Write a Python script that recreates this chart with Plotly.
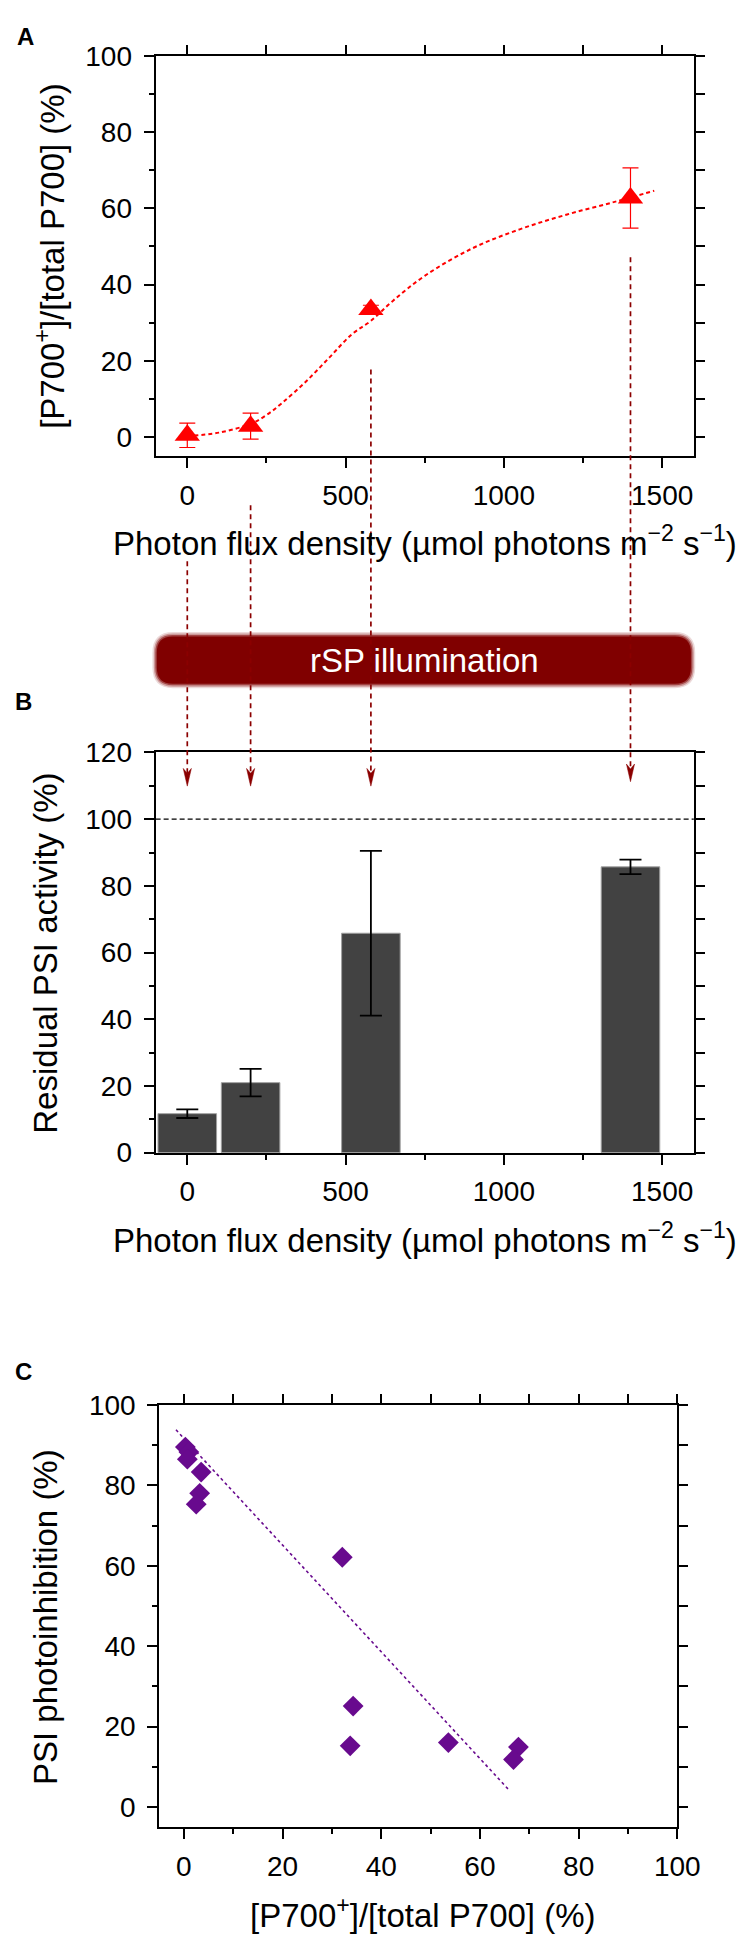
import plotly.graph_objects as go

W, H = 750, 1943
FONT = "Liberation Sans, Arial, Helvetica, sans-serif"

# ---- panel A: P700 oxidation vs light ----
a_pfd = [0, 200, 580, 1400]
a_p700 = [0.5, 2.9, 33.5, 62.7]
a_err = [3.2, 3.4, 1.1, 7.9]
# fitted curve
fit_x = [0, 100, 200, 250, 300, 375, 450, 520, 580, 650, 750, 900, 1050, 1200, 1350, 1475]
fit_y = [0.3, 1.2, 3.5, 5.8, 9.0, 14.6, 21.0, 27.0, 30.5, 35.8, 42.3, 49.5, 54.5, 58.4, 61.7, 64.6]

# ---- panel B: residual PSI activity ----
b_pfd = [0, 200, 580, 1400]
b_psi = [11.7, 21.0, 65.8, 85.7]
b_err = [1.3, 4.1, 24.7, 2.2]

# ---- panel C: photoinhibition vs P700+ ----
c_p700 = [0.3, 1.0, 0.7, 3.5, 3.2, 2.5, 32.1, 34.3, 33.7, 53.6, 67.8, 66.8]
c_inhib = [89.5, 88.3, 86.5, 83.3, 78.0, 75.3, 62.1, 25.1, 15.2, 16.0, 14.9, 11.8]
reg_x = [-1.6, 65.9]
reg_y = [93.8, 4.2]

# arrows from panel A down to panel B (pixel y of start / tip)
arrow_start = [547, 490, 352, 238]
arrow_tip = [775.5, 775.5, 775.5, 771]

RED = "#FF0000"
DARKRED = "#8B0000"
PURPLE = "#680A8E"


def px(v):
    return v / W


def py(v):
    return 1 - v / H


fig = go.Figure()

fig.add_trace(go.Scatter(x=fit_x, y=fit_y, mode="lines", line_shape="spline",
                         line=dict(color=RED, width=2, dash="4px,3px"),
                         xaxis="x", yaxis="y", hoverinfo="skip"))
fig.add_trace(go.Scatter(x=a_pfd, y=a_p700, mode="markers",
                         marker=dict(symbol="triangle-up", size=22, color=RED),
                         error_y=dict(type="data", array=a_err, color=RED,
                                      thickness=1.2, width=8),
                         xaxis="x", yaxis="y"))

fig.add_trace(go.Bar(x=b_pfd, y=b_psi, width=185,
                     marker=dict(color="#424242", line=dict(color="#a0a0a0", width=1)),
                     error_y=dict(type="data", array=b_err, color="black",
                                  thickness=1.8, width=11),
                     xaxis="x2", yaxis="y2"))

fig.add_trace(go.Scatter(x=reg_x, y=reg_y, mode="lines",
                         line=dict(color=PURPLE, width=1.6, dash="3px,3px"),
                         xaxis="x3", yaxis="y3", hoverinfo="skip"))
fig.add_trace(go.Scatter(x=c_p700, y=c_inhib, mode="markers",
                         marker=dict(symbol="diamond", size=16, color=PURPLE),
                         xaxis="x3", yaxis="y3"))

# empty traces so the opposite-side tick axes get drawn
for xa, ya in [("x4", "y4"), ("x2", "y5"), ("x6", "y6")]:
    fig.add_trace(go.Scatter(x=[None], y=[None], mode="markers", xaxis=xa, yaxis=ya,
                             hoverinfo="skip"))

axis_common = dict(showgrid=False, zeroline=False, showline=True, linecolor="black",
                   linewidth=2, ticks="outside", ticklen=10, tickwidth=2, mirror=True,
                   tickcolor="black", tickfont=dict(size=28, color="black", family=FONT))
minor_x = dict(ticks="outside", ticklen=5, tickwidth=2, tickcolor="black")
# opposite axes: every tick is drawn long, no labels
opp = dict(showgrid=False, zeroline=False, showline=False, showticklabels=False,
           ticks="outside", ticklen=10, tickwidth=2, tickcolor="black", tick0=0)

fig.update_layout(
    width=W, height=H, margin=dict(l=0, r=0, t=0, b=0),
    paper_bgcolor="white", plot_bgcolor="white", showlegend=False,
    font=dict(family=FONT, color="black", size=28),
    xaxis=dict(axis_common, domain=[px(152.3), px(707.5)], anchor="y",
               range=[-100, 1600], dtick=500, tick0=0,
               ticklabelstandoff=3, minor=dict(minor_x, dtick=250)),
    yaxis=dict(axis_common, domain=[py(440.3), py(33.3)], anchor="x",
               range=[-5, 100], dtick=20, tick0=0,
               ticklabelstandoff=6, minor=dict(minor_x, dtick=10)),
    xaxis4=dict(opp, overlaying="x", side="top", anchor="y", range=[-100, 1600], dtick=250),
    yaxis4=dict(opp, overlaying="y", side="right", anchor="x", range=[-5, 100], dtick=10),
    xaxis2=dict(axis_common, domain=[px(152.3), px(707.5)], anchor="y2",
                range=[-100, 1600], dtick=500, tick0=0,
                ticklabelstandoff=3, minor=dict(minor_x, dtick=250)),
    yaxis2=dict(axis_common, domain=[py(1148), py(741.3)], anchor="x2",
                range=[0, 120], dtick=20, tick0=0,
                ticklabelstandoff=6, minor=dict(minor_x, dtick=10)),
    yaxis5=dict(opp, overlaying="y2", side="right", anchor="x2", range=[0, 120], dtick=10),
    xaxis3=dict(axis_common, domain=[px(156), px(690.5)], anchor="y3",
                range=[-5, 100], dtick=20, tick0=0,
                ticklabelstandoff=3, minor=dict(minor_x, dtick=10)),
    yaxis3=dict(axis_common, domain=[py(1833.3), py(1404.3)], anchor="x3",
                range=[-5, 100], dtick=20, tick0=0,
                ticklabelstandoff=6, minor=dict(minor_x, dtick=10)),
    xaxis6=dict(opp, overlaying="x3", side="top", anchor="y3", range=[-5, 100], dtick=10),
    yaxis6=dict(opp, overlaying="y3", side="right", anchor="x3", range=[-5, 100], dtick=10),
)

# axis titles and panel letters
ann = []
xt = "Photon flux density (µmol photons m<sup>−2</sup> s<sup>−1</sup>)"
for (x, y, txt, rot) in [
    (430, 526, xt, 0),
    (430, 1235, xt, 0),
    (428, 1921, "[P700<sup>+</sup>]/[total P700] (%)", 0),
    (44, 237, "[P700<sup>+</sup>]/[total P700] (%)", -90),
    (39, 945, "Residual PSI activity (%)", -90),
    (38, 1620, "PSI photoinhibition (%)", -90),
]:
    ann.append(dict(x=px(x), y=py(y), xref="paper", yref="paper", text=txt,
                    showarrow=False, textangle=rot, xanchor="center", yanchor="middle",
                    font=dict(size=33, color="black", family=FONT)))
for (x, y, txt) in [(18, 14, "A"), (16, 690, "B"), (16, 1370, "C")]:
    ann.append(dict(x=px(x), y=py(y), xref="paper", yref="paper", text="<b>" + txt + "</b>",
                    showarrow=False, xanchor="center", yanchor="middle",
                    font=dict(size=24, color="black", family=FONT)))
ann.append(dict(x=px(430), y=py(648), xref="paper", yref="paper", text="rSP illumination",
                showarrow=False, xanchor="center", yanchor="middle",
                font=dict(size=33, color="white", family=FONT)))


def rrect(x0, y0, x1, y1, r):
    return (f"M {px(x0 + r)},{py(y0)} L {px(x1 - r)},{py(y0)} "
            f"Q {px(x1)},{py(y0)} {px(x1)},{py(y0 + r)} L {px(x1)},{py(y1 - r)} "
            f"Q {px(x1)},{py(y1)} {px(x1 - r)},{py(y1)} L {px(x0 + r)},{py(y1)} "
            f"Q {px(x0)},{py(y1)} {px(x0)},{py(y1 - r)} L {px(x0)},{py(y0 + r)} "
            f"Q {px(x0)},{py(y0)} {px(x0 + r)},{py(y0)} Z")


shapes = []
# blurred banner, stacked layers
for grow, op in [(3, 0.15), (1.5, 0.3), (0, 0.55), (-1.5, 1.0)]:
    shapes.append(dict(type="path", xref="paper", yref="paper", layer="below",
                       path=rrect(152 - grow, 622 - grow, 706 + grow, 673 + grow, 18 + grow),
                       fillcolor="#800000", line=dict(width=0), opacity=op))

# dashed line at 100 % in panel B
shapes.append(dict(type="line", xref="x2 domain", yref="y2", x0=0, x1=1, y0=100, y1=100,
                   line=dict(color="black", width=1.2, dash="5px,3px")))

# arrows
unit_px = (707.5 - 152.3) / 1700.0
hw = 4.2 / unit_px
for xv, s, t in zip(a_pfd, arrow_start, arrow_tip):
    shapes.append(dict(type="line", xref="x", yref="paper", x0=xv, x1=xv,
                       y0=py(s), y1=py(t - 13),
                       line=dict(color=DARKRED, width=1.7, dash="5px,4px")))
    shapes.append(dict(type="path", xref="x", yref="paper",
                       path=(f"M {xv - hw},{py(t - 18)} L {xv},{py(t)} L {xv + hw},{py(t - 18)} "
                             f"L {xv},{py(t - 13)} Z"),
                       fillcolor=DARKRED, line=dict(color=DARKRED, width=0.5)))

fig.update_layout(annotations=ann, shapes=shapes)

fig.write_html("out.html")
